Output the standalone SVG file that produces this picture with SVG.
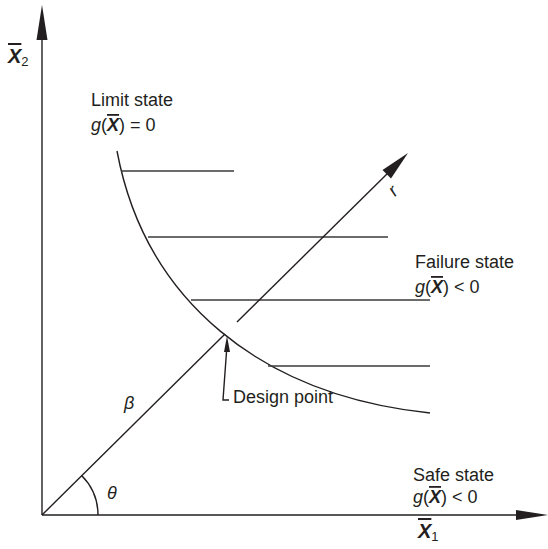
<svg xmlns="http://www.w3.org/2000/svg" width="548" height="549" viewBox="0 0 548 549">
<style>
.ln{stroke:#231f20;stroke-width:1.4;fill:none}
.hl{stroke:#3a3a3a;stroke-width:1.4;fill:none}
.ah{fill:#231f20;stroke:none}
text{font-family:"Liberation Sans",Arial,sans-serif;fill:#231f20;font-size:18px}
.it{font-style:italic}
.bx{font-weight:bold;font-style:italic;text-decoration:overline}
</style>
<rect width="548" height="549" fill="#fff"/>
<g id="axes">
<line class="ln" x1="42" y1="515" x2="42" y2="36"/>
<polygon class="ah" points="42,5 36.5,40 47.5,40"/>
<line class="ln" x1="42" y1="515" x2="520" y2="515"/>
<polygon class="ah" points="548,515 516,510 516,520"/>
</g>
<g id="limit-state-curve">
<path class="ln" d="M117,151 C145,300 260,395 430,413"/>
</g>
<g id="connectors">
<line class="hl" x1="121" y1="171" x2="234" y2="171"/>
<line class="hl" x1="148" y1="237" x2="388" y2="237"/>
<line class="hl" x1="191" y1="300" x2="430" y2="300"/>
<line class="hl" x1="268" y1="366" x2="430" y2="366"/>
<line class="ln" x1="42" y1="515" x2="225" y2="334"/>
<line class="ln" x1="237" y1="322" x2="390" y2="171"/>
<polygon class="ah" points="408,153 391,178.5 382.5,170"/>
<path class="ln" d="M227,345 L223,400 L229,400"/>
<polygon class="ah" points="227,336 224,352 230,352"/>
<path class="ln" d="M98,515 A56,56 0 0 0 81.6,475.4"/>
</g>
<g id="labels">
<text x="8" y="63" style="font-size:20px"><tspan class="bx">X</tspan><tspan style="font-size:13px" dy="3">2</tspan></text>
<text x="91" y="106">Limit state</text>
<text x="91" y="131"><tspan class="it">g</tspan>(<tspan class="bx">X</tspan>) = 0</text>
<text x="415" y="268">Failure state</text>
<text x="415" y="293"><tspan class="it">g</tspan>(<tspan class="bx">X</tspan>) &lt; 0</text>
<text x="233" y="403">Design point</text>
<text x="413" y="481">Safe state</text>
<text x="413" y="503"><tspan class="it">g</tspan>(<tspan class="bx">X</tspan>) &lt; 0</text>
<text x="124" y="409" class="it">β</text>
<text x="107" y="499" class="it">θ</text>
<text x="418" y="538" style="font-size:20px"><tspan class="bx">X</tspan><tspan style="font-size:13px" dy="3">1</tspan></text>
<text x="0" y="0" class="it" style="font-size:18px" transform="translate(395,197) rotate(-45)">r</text>
</g>
</svg>
